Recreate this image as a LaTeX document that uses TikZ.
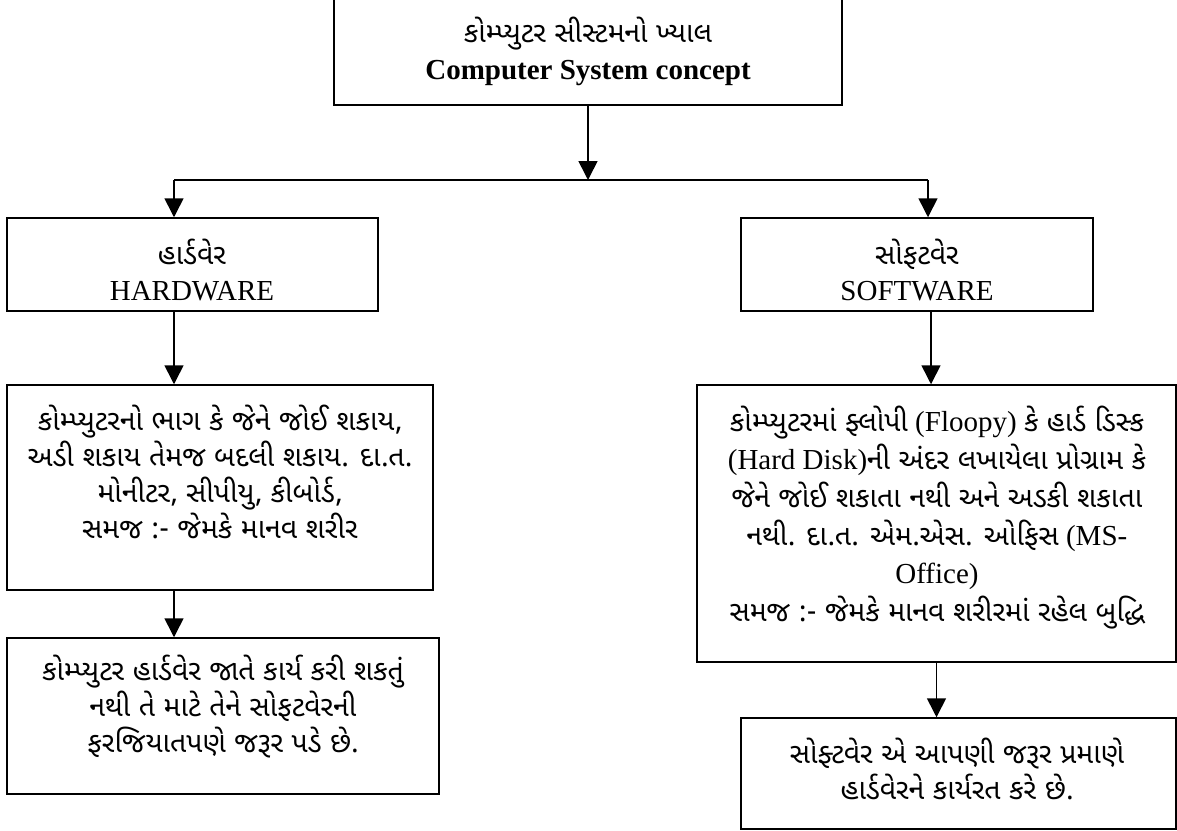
\documentclass[tikz,border=0pt]{standalone}
\usepackage{fontspec}
\setmainfont{Liberation Serif}
\newfontfamily\gujfont[Script=Gujarati,Scale=0.98]{Noto Sans Gujarati UI}
\newcommand{\gu}[1]{{\gujfont #1}}
\usetikzlibrary{arrows.meta}

\tikzset{
  box/.style={draw, line width=1.5pt, inner sep=0pt},
  txt/.style={align=center, inner sep=0pt},
  conn/.style={line width=1.6pt, -{Triangle[width=19pt,length=19pt]}},
}

\begin{document}
\begin{tikzpicture}[x=1pt, y=-1pt]
\useasboundingbox (0,0) rectangle (1177,830);

% boxes
\node[box, minimum width=508pt, minimum height=108pt] (top) at (588,51) {};
\node[box, minimum width=371pt, minimum height=93pt]  (hw)  at (192.5,264.5) {};
\node[box, minimum width=352pt, minimum height=93pt]  (sw)  at (917,264.5) {};
\node[box, minimum width=426pt, minimum height=205pt] (hwa) at (220,487.5) {};
\node[box, minimum width=432pt, minimum height=156pt] (hwb) at (223,716) {};
\node[box, minimum width=479pt, minimum height=277pt] (swa) at (936.5,523.5) {};
\node[box, minimum width=435pt, minimum height=111pt] (swb) at (958.5,773.5) {};

% texts
\node[txt, font=\fontsize{29}{37}\selectfont] (topt) at (588,51)
  {\gu{કોમ્પ્યુટર સીસ્ટમનો ખ્યાલ}\\\textbf{Computer System concept}};
\node[txt, font=\fontsize{29}{36}\selectfont] (hwt) at (192,270)
  {\gu{હાર્ડવેર}\\HARDWARE};
\node[txt, font=\fontsize{29}{36}\selectfont] (swt) at (917,270)
  {\gu{સોફટવેર}\\SOFTWARE};
\node[txt, font=\fontsize{29}{36}\selectfont] (hwat) at (220,472)
  {\gu{કોમ્પ્યુટરનો ભાગ કે જેને જોઈ શકાય,}\\
   \gu{અડી શકાય તેમજ બદલી શકાય. દા.ત.}\\
   \gu{મોનીટર, સીપીયુ, કીબોર્ડ,}\\
   \gu{સમજ :- જેમકે માનવ શરીર}};
\node[txt, font=\fontsize{29}{36}\selectfont] (hwbt) at (223,707)
  {\gu{કોમ્પ્યુટર હાર્ડવેર જાતે કાર્ય કરી શકતું}\\
   \gu{નથી તે માટે તેને સોફટવેરની}\\
   \gu{ફરજિયાતપણે જરૂર પડે છે.}};
\node[txt, font=\fontsize{29}{38}\selectfont] (swat) at (937,518)
  {\gu{કોમ્પ્યુટરમાં ફ્લોપી} (Floopy) \gu{કે હાર્ડ ડિસ્ક}\\
   (Hard Disk)\gu{ની અંદર લખાયેલા પ્રોગ્રામ કે}\\
   \gu{જેને જોઈ શકાતા નથી અને અડકી શકાતા}\\
   \gu{નથી. દા.ત. એમ.એસ. ઓફિસ} (MS-\\
   Office)\\
   \gu{સમજ :- જેમકે માનવ શરીરમાં રહેલ બુદ્ધિ}};
\node[txt, font=\fontsize{29}{36}\selectfont] (swbt) at (957,769)
  {\gu{સોફ્ટવેર એ આપણી જરૂર પ્રમાણે}\\
   \gu{હાર્ડવેરને કાર્યરત કરે છે.}};

% connectors
\coordinate (split) at (top.south |- 0,180);
\coordinate (hl) at (174,180);
\coordinate (hr) at (928,180);
\coordinate (sx) at (931,311);
\draw[conn] (top.south) -- (split);
\draw[line width=1.6pt] (hl) -- (hr);
\draw[conn] (hl) -- (hl |- hw.north);
\draw[conn] (hr) -- (hr |- sw.north);
\draw[conn] (hl |- hw.south) -- (hl |- hwa.north);
\draw[conn] (hl |- hwa.south) -- (hl |- hwb.north);
\draw[conn] (sx |- sw.south) -- (sx |- swa.north);
\draw[conn] (swa.south) -- (swa.south |- swb.north);
\end{tikzpicture}
\end{document}
